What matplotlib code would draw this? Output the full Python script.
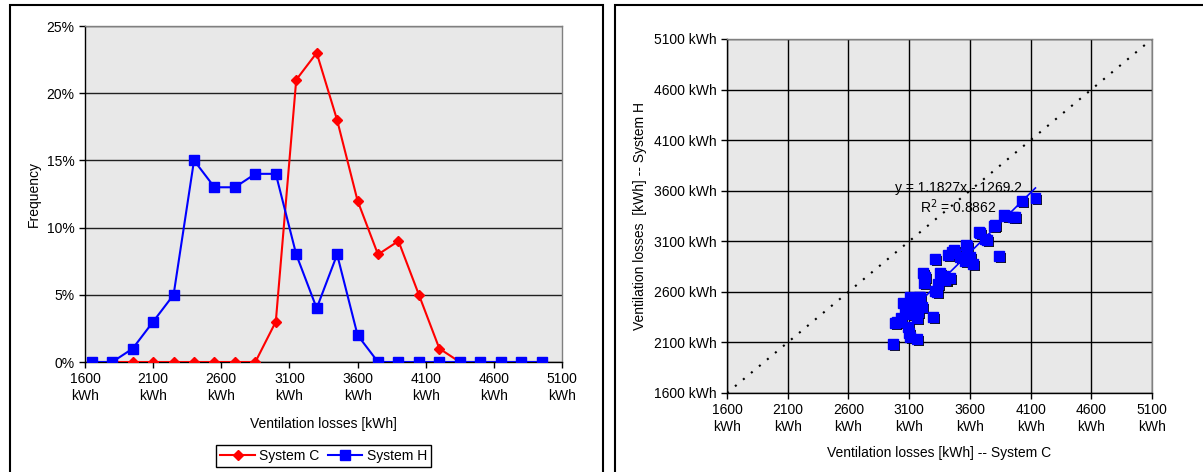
import numpy as np
import matplotlib
matplotlib.use("Agg")
import matplotlib.pyplot as plt
from matplotlib.patches import Rectangle
import matplotlib.patheffects as pe

plt.rcParams['font.family'] = ['Liberation Sans', 'DejaVu Sans']
plt.rcParams['font.size'] = 10

# histogram bins (kWh) and frequencies (%)
bins = [1650, 1800, 1950, 2100, 2250, 2400, 2550, 2700, 2850, 3000, 3150, 3300,
        3450, 3600, 3750, 3900, 4050, 4200, 4350, 4500, 4650, 4800, 4950]
freq_c = [0, 0, 0, 0, 0, 0, 0, 0, 0, 3, 21, 23, 18, 12, 8, 9, 5, 1, 0, 0, 0, 0, 0]
freq_h = [0, 0, 1, 3, 5, 15, 13, 13, 14, 14, 8, 4, 8, 2, 0, 0, 0, 0, 0, 0, 0, 0, 0]

# scatter: ventilation losses per case, system C vs system H (kWh)
loss_c = [2967, 2985, 3000, 3030, 3049, 3066, 3075, 3091, 3099, 3107,
          3107, 3120, 3132, 3140, 3150, 3165, 3165, 3173, 3180, 3190,
          3206, 3214, 3222, 3231, 3297, 3313, 3313, 3330, 3340, 3354,
          3370, 3390, 3400, 3420, 3437, 3453, 3470, 3478, 3520, 3544,
          3560, 3569, 3577, 3600, 3626, 3675, 3683, 3725, 3741, 3800,
          3807, 3840, 3881, 3900, 3955, 3972, 4030, 4140]
loss_h = [2084, 2292, 2302, 2340, 2490, 2391, 2420, 2253, 2193, 2154,
          2549, 2380, 2430, 2480, 2510, 2342, 2134, 2400, 2550, 2549,
          2450, 2786, 2688, 2747, 2352, 2608, 2925, 2600, 2680, 2787,
          2750, 2760, 2720, 2964, 2740, 2994, 3014, 2980, 2940, 2945,
          2900, 3064, 3053, 2950, 2875, 3192, 3180, 3122, 3112, 3251,
          3261, 2955, 3360, 3350, 3340, 3340, 3498, 3528]

# Excel trendline
slope, icpt, r2 = 1.1827, -1269.2, 0.8862

ticks = [1600, 2100, 2600, 3100, 3600, 4100, 4600, 5100]
W, H = 1203, 472
fig = plt.figure(figsize=(W / 100, H / 100), dpi=100)
fig.patch.set_facecolor('white')

# panel frames
fig.add_artist(Rectangle((10 / W, -0.05), (603 - 10) / W, 1.05 - 5 / H,
                         transform=fig.transFigure, fill=False, lw=1.5, ec='black'))
fig.add_artist(Rectangle((615 / W, -0.05), 1.0, 1.05 - 5 / H,
                         transform=fig.transFigure, fill=False, lw=1.5, ec='black'))

def style(ax):
    ax.set_facecolor('#e8e8e8')
    for s in ['top', 'right']:
        ax.spines[s].set_color('#808080')
    for s in ['left', 'bottom']:
        ax.spines[s].set_color('black')
    for s in ax.spines.values():
        s.set_linewidth(1)
    ax.tick_params(direction='out', length=4, width=1, color='black', labelsize=10)
    ax.set_axisbelow(True)

# ---- left: frequency distribution
ax1 = fig.add_axes([85 / W, 1 - 362 / H, 477 / W, 336 / H])
style(ax1)
ax1.plot(bins, freq_c, color='red', marker='D', ms=5, lw=1.5, label='System C', zorder=3)
ax1.plot(bins, freq_h, color='blue', marker='s', ms=7, lw=1.5, label='System H', zorder=4)
ax1.set_xlim(1600, 5100)
ax1.set_ylim(0, 25)
ax1.set_xticks(ticks)
ax1.set_xticklabels([f'{t}\nkWh' for t in ticks])
ax1.set_yticks(range(0, 26, 5))
ax1.set_yticklabels([f'{v}%' for v in range(0, 26, 5)])
ax1.yaxis.grid(True, color='#202020', lw=1)
ax1.set_xlabel('Ventilation losses [kWh]', labelpad=10)
ax1.set_ylabel('Frequency', labelpad=4)
leg = ax1.legend(loc='upper center', bbox_to_anchor=(0.5, -0.225), ncol=2,
                 frameon=True, fancybox=False, framealpha=1, edgecolor='black',
                 handlelength=2.5, handletextpad=0.3, columnspacing=0.6,
                 borderpad=0.3, fontsize=10)
leg.get_frame().set_linewidth(1)

# ---- right: system C vs system H
ax2 = fig.add_axes([727 / W, 1 - 393 / H, 425 / W, 354 / H])
style(ax2)
ax2.set_xlim(1600, 5100)
ax2.set_ylim(1600, 5100)
ax2.set_xticks(ticks)
ax2.set_yticks(ticks)
ax2.set_xticklabels([f'{t}\nkWh' for t in ticks])
ax2.set_yticklabels([f'{t} kWh' for t in ticks])
ax2.grid(True, color='black', lw=1)
ax2.plot([1600, 5100], [1600, 5100], color='black', ls=(0, (1, 4)), lw=1.5, zorder=2)
sc = ax2.plot(loss_c, loss_h, ls='none', marker='s', ms=7, color='blue', zorder=3)[0]
sc.set_path_effects([pe.SimplePatchShadow(offset=(1.5, -1.5), shadow_rgbFace='black', alpha=0.9),
                     pe.Normal()])
xl = np.array([min(loss_c), max(loss_c)])
ax2.plot(xl, slope * xl + icpt, color='blue', lw=1.2, zorder=4)
ax2.text(2984, 3627, f'y = {slope}x - {abs(icpt)}', ha='left', va='center', fontsize=10, zorder=5)
ax2.text(3190, 3439, f'R$^2$ = {r2}', ha='left', va='center', fontsize=10, zorder=5)
ax2.set_xlabel('Ventilation losses [kWh] -- System C', labelpad=9)
ax2.set_ylabel('Ventilation losses  [kWh] -- System H', labelpad=5)

fig.savefig('out.png', dpi=100)
